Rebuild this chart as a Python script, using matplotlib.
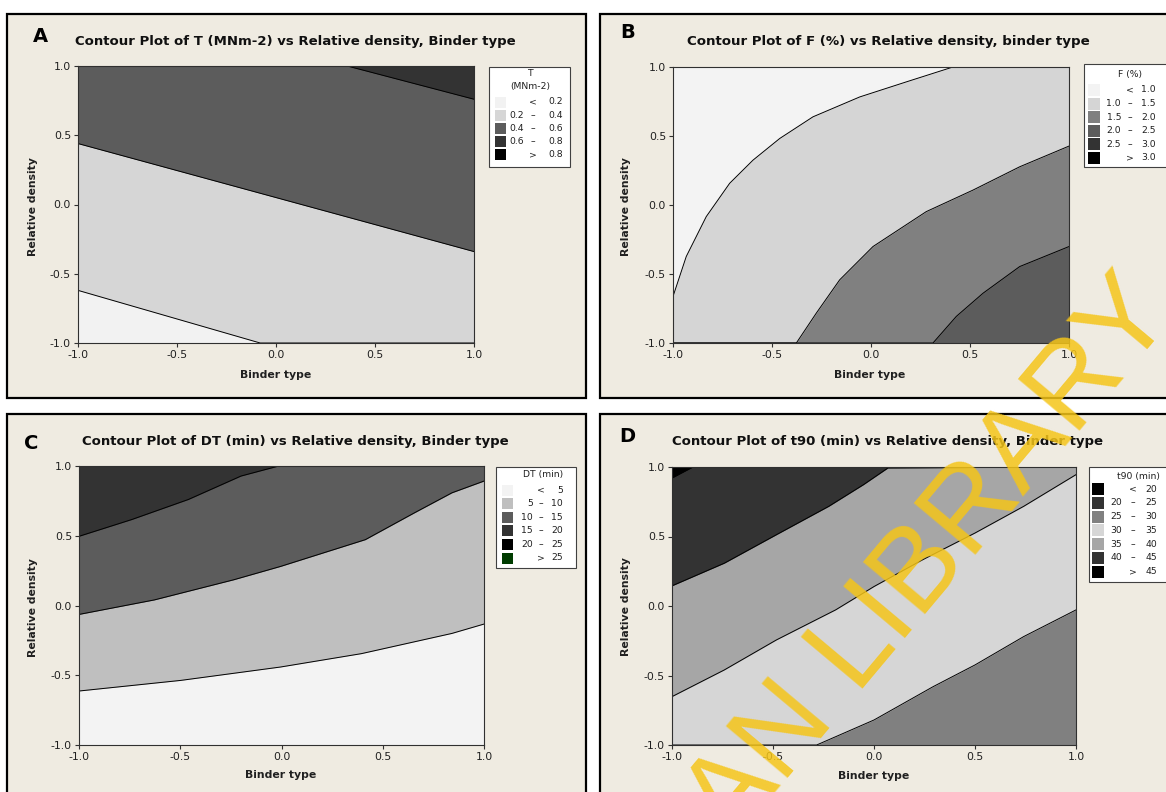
import matplotlib
matplotlib.use("Agg")
import matplotlib.pyplot as plt
from matplotlib.patches import Rectangle

W, H = 1166, 792

ticks = [-1.0, -0.5, 0.0, 0.5, 1.0]
x_label = "Binder type"
y_label = "Relative density"

# A: T (MNm-2), band boundaries
a_title = "Contour Plot of T (MNm-2) vs Relative density, Binder type"
a_legend_title = ["T", "(MNm-2)"]
a_levels = [0.2, 0.4, 0.6, 0.8]
a_colors = ["#f2f2f2", "#d6d6d6", "#5c5c5c", "#333333", "#000000"]
a_line_levels = [0.2, 0.4, 0.6]
a_line_x = [[-1.0, -0.08, 1.0], [-1.0, 1.0], [-1.0, 0.36, 1.0]]
a_line_y = [[-0.62, -1.0, -1.0], [0.44, -0.34], [1.0, 1.0, 0.76]]

# B: F (%)
b_title = "Contour Plot of F (%) vs Relative density, binder type"
b_legend_title = ["F (%)"]
b_levels = [1.0, 1.5, 2.0, 2.5, 3.0]
b_colors = ["#f3f3f3", "#d5d5d5", "#808080", "#5c5c5c", "#333333", "#000000"]
b_line_levels = [1.0, 1.5, 2.0]
b_line_x = [[-1.0, -0.933, -0.832, -0.714, -0.596, -0.461, -0.293, -0.057, 0.178, 0.414, 1.0],
            [-1.0, -0.377, -0.276, -0.158, 0.01, 0.279, 0.515, 0.751, 1.0],
            [-1.0, 0.313, 0.431, 0.566, 0.751, 1.0]]
b_line_y = [[-0.663, -0.373, -0.084, 0.157, 0.325, 0.482, 0.639, 0.783, 0.892, 1.0, 1.0],
            [-1.0, -1.0, -0.783, -0.542, -0.301, -0.048, 0.108, 0.277, 0.427],
            [-1.0, -1.0, -0.807, -0.639, -0.446, -0.301]]

# C: DT (min)
c_title = "Contour Plot of DT (min) vs Relative density, Binder type"
c_legend_title = ["DT (min)"]
c_levels = [5, 10, 15, 20, 25]
c_colors = ["#f3f3f3", "#bfbfbf", "#5c5c5c", "#333333", "#000000", "#003c00"]
c_line_levels = [5, 10, 15]
c_line_x = [[-1.0, -0.498, -0.005, 0.395, 0.842, 1.0],
            [-1.0, -0.628, -0.237, -0.005, 0.414, 0.656, 0.842, 1.0],
            [-1.0, -0.74, -0.46, -0.2, -0.014, 1.0]]
c_line_y = [[-0.613, -0.537, -0.441, -0.345, -0.2, -0.133],
            [-0.064, 0.04, 0.184, 0.28, 0.472, 0.664, 0.808, 0.892],
            [0.496, 0.616, 0.76, 0.928, 1.0, 1.0]]

# D: t90 (min)
d_title = "Contour Plot of t90 (min) vs Relative density, Binder type"
d_legend_title = ["t90 (min)"]
d_levels = [20, 25, 30, 35, 40, 45]
d_colors = ["#000000", "#333333", "#808080", "#d6d6d6", "#a6a6a6", "#333333", "#000000"]
d_line_levels = [30, 35, 40, 45]
d_line_x = [[-1.0, -0.284, 0.0, 0.293, 0.5, 0.741, 1.0],
            [-1.0, -0.741, -0.483, -0.19, 0.0, 0.241, 0.5, 0.741, 1.0],
            [-1.0, -0.741, -0.483, -0.224, -0.052, 0.069, 1.0],
            [-1.0, -0.897, 1.0]]
d_line_y = [[-1.0, -1.0, -0.82, -0.58, -0.424, -0.22, -0.028],
            [-0.652, -0.46, -0.244, -0.028, 0.14, 0.333, 0.525, 0.717, 0.945],
            [0.145, 0.308, 0.513, 0.717, 0.873, 0.993, 1.0],
            [0.921, 1.0, 1.0]]

watermark = "DAN LIBRARY"

plt.rcParams["font.family"] = ["DejaVu Sans"]
fig = plt.figure(figsize=(W / 100, H / 100), dpi=100, facecolor="white")


def fx(x):
    return x / W


def fy(y):
    return 1 - y / H


def fit_width(txt, width_px):
    r = fig.canvas.get_renderer()
    w = txt.get_window_extent(renderer=r).width
    txt.set_fontsize(txt.get_fontsize() * width_px / w)


def panel_frame(l, t, r, b):
    fig.add_artist(Rectangle((fx(l), fy(b)), (r - l) / W, (b - t) / H,
                             transform=fig.transFigure, facecolor="#efebe1",
                             edgecolor="black", lw=1.6, zorder=-5))


def draw_panel(box, levels, colors, line_levels, line_x, line_y, side):
    l, t, r, b = box
    ax = fig.add_axes([fx(l), fy(b), (r - l) / W, (b - t) / H])
    ax.set_facecolor(colors[levels.index(line_levels[0])])
    edge = 1.0 if side == "above" else -1.0
    for lv, xs, ys in zip(line_levels, line_x, line_y):
        ax.fill_between(xs, ys, edge, color=colors[levels.index(lv) + 1], lw=0, zorder=1)
    for xs, ys in zip(line_x, line_y):
        ax.plot(xs, ys, color="black", lw=0.7, zorder=2)
    ax.set_xlim(-1, 1)
    ax.set_ylim(-1, 1)
    ax.set_xticks(ticks)
    ax.set_yticks(ticks)
    ax.set_xticklabels([f"{v:.1f}" for v in ticks])
    ax.set_yticklabels([f"{v:.1f}" for v in ticks])
    ax.tick_params(direction="out", length=3, width=0.8, labelsize=7.8, pad=2,
                   color="#303030", labelcolor="#202020")
    for s in ax.spines.values():
        s.set_color("#303030")
        s.set_linewidth(0.8)
        s.set_zorder(3)
    return ax


def draw_legend(box, title_lines, title_x, title_y, levels, colors, fmt,
                row_y0, row_dy, sw_x, sw, lo_r, dash_x, hi_r):
    x0, y0, x1, y1 = box
    fig.add_artist(Rectangle((fx(x0), fy(y1)), (x1 - x0) / W, (y1 - y0) / H,
                             transform=fig.transFigure, facecolor="white",
                             edgecolor="#404040", lw=0.8, zorder=3))
    kw = dict(fontsize=6.7, color="#202020", va="center", zorder=4)
    for i, line in enumerate(title_lines):
        fig.text(fx(title_x), fy(title_y + 13 * i), line, ha="center", **kw)
    n = len(levels) + 1
    for i in range(n):
        y = row_y0 + i * row_dy
        fig.add_artist(Rectangle((fx(sw_x), fy(y + sw / 2)), sw / W, sw / H,
                                 transform=fig.transFigure, facecolor=colors[i],
                                 edgecolor="none", zorder=4))
        if i == 0:
            fig.text(fx(dash_x), fy(y), "<", ha="center", **kw)
            fig.text(fx(hi_r), fy(y), fmt.format(levels[0]), ha="right", **kw)
        elif i == n - 1:
            fig.text(fx(dash_x), fy(y), ">", ha="center", **kw)
            fig.text(fx(hi_r), fy(y), fmt.format(levels[-1]), ha="right", **kw)
        else:
            fig.text(fx(lo_r), fy(y), fmt.format(levels[i - 1]), ha="right", **kw)
            fig.text(fx(dash_x), fy(y), "\u2013", ha="center", **kw)
            fig.text(fx(hi_r), fy(y), fmt.format(levels[i]), ha="right", **kw)


def labels(letter, letter_xy, title, title_xy, title_w, xl_xy, yl_xy):
    fig.text(fx(letter_xy[0]), fy(letter_xy[1]), letter, fontsize=14,
             fontweight="bold", ha="center", va="center")
    t = fig.text(fx(title_xy[0]), fy(title_xy[1]), title, fontsize=10,
                 fontweight="bold", ha="center", va="center", color="#101010")
    fit_width(t, title_w)
    fig.text(fx(xl_xy[0]), fy(xl_xy[1]), x_label, fontsize=7.8, fontweight="bold",
             ha="center", va="center", color="#202020")
    fig.text(fx(yl_xy[0]), fy(yl_xy[1]), y_label, fontsize=7.8, fontweight="bold",
             ha="center", va="center", rotation=90, color="#202020")


# frames
panel_frame(7, 14, 586, 398)
panel_frame(600, 14, 1175, 398)
panel_frame(7, 414, 586, 800)
panel_frame(600, 414, 1175, 800)

# A
draw_panel((78, 66, 474, 343), a_levels, a_colors, a_line_levels, a_line_x, a_line_y, "above")
labels("A", (40, 37), a_title, (295, 41), 440, (276, 375), (33, 207))
draw_legend((489, 67, 570, 167), a_legend_title, 530, 74, a_levels, a_colors, "{:.1f}",
            102, 13.2, 495, 11, 524, 533, 563)

# B
draw_panel((673, 67, 1069, 343), b_levels, b_colors, b_line_levels, b_line_x, b_line_y, "below")
labels("B", (628, 32), b_title, (888, 41), 403, (870, 375), (626, 207))
draw_legend((1084, 64, 1172, 167), b_legend_title, 1130, 75, b_levels, b_colors, "{:.1f}",
            90, 13.6, 1088, 12, 1121, 1130, 1156)

# C
draw_panel((79, 466, 484, 745), c_levels, c_colors, c_line_levels, c_line_x, c_line_y, "above")
labels("C", (31, 444), c_title, (295, 442), 424, (281, 775), (33, 608))
draw_legend((496, 467, 576, 568), c_legend_title, 543, 475, c_levels, c_colors, "{:.0f}",
            490, 13.6, 502, 11, 533, 541, 563)

# D
draw_panel((672, 467, 1076, 745), d_levels, d_colors, d_line_levels, d_line_x, d_line_y, "above")
labels("D", (627, 436), d_title, (888, 442), 429, (874, 776), (626, 607))
draw_legend((1089, 467, 1172, 582), d_legend_title, 1138, 476, d_levels, d_colors, "{:.0f}",
            489, 13.8, 1092, 12, 1122, 1133, 1157)

# watermark
fig.text(fx(903), fy(592), watermark, fontsize=84, rotation=50, color="#f5c518",
         alpha=0.85, ha="center", va="center", family=["Liberation Sans", "DejaVu Sans"],
         zorder=10)

fig.savefig("out.png", dpi=100, facecolor="white")
